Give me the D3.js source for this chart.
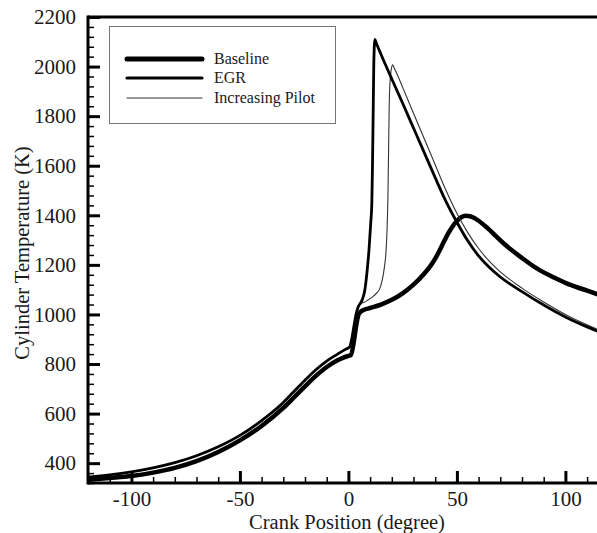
<!DOCTYPE html>
<html>
<head>
<meta charset="utf-8">
<script src="https://cdn.jsdelivr.net/npm/d3@7"></script>
<style>
  body { margin: 0; background: #fff; }
  svg { display: block; font-family: "Liberation Serif", "Times New Roman", serif; }
  .axis text { font-size: 21px; fill: #1a1a1a; }
  .axis-title { font-size: 20.5px; fill: #1a1a1a; }
  .legend text { font-size: 16px; fill: #1a1a1a; }
</style>
</head>
<body>
<svg id="chart"></svg>
<script>
// crank angle (deg) vs temperature (K)
const baseline = [[-120,333],[-110,340],[-100,348],[-90,362],[-80,381],[-70,408],[-60,445],[-50,492],
  [-40,550],[-30,623],[-25,666],[-20,710],[-15,752],[-10,788],[-5,815],[-2,827],[0,833],[1.2,837],
  [2.5,890],[3.5,950],[4.5,995],[5.5,1010],[7,1018],[10,1026],[15,1040],[20,1059],[25,1085],[30,1120],
  [35,1165],[38,1198],[40,1225],[42,1258],[44,1293],[46,1327],[48,1355],[50,1377],[52,1392],[54,1398],
  [56,1396],[58,1389],[60,1378],[64,1349],[68,1316],[72,1283],[80,1228],[87,1185],[95,1148],
  [102,1120],[110,1096],[115,1081],[120,1067]];

const egr = [[-120,344],[-110,353],[-100,365],[-90,381],[-80,402],[-70,430],[-60,466],[-50,512],
  [-40,572],[-30,645],[-25,690],[-20,735],[-15,777],[-10,812],[-5,840],[-2,856],[-0.5,863],[0.5,868],
  [1.5,900],[2.5,950],[3.5,1000],[4.5,1030],[5.5,1045],[6.5,1062],[7.6,1100],[8.5,1165],[9.5,1262],
  [10.3,1370],[10.8,1450],[11.1,1600],[11.4,1800],[11.7,2010],[12.2,2110],[12.8,2096],[15,2050],
  [20,1950],[25,1852],[30,1752],[35,1652],[40,1552],[45,1455],[50,1372],[55,1297],[60,1236],
  [65,1189],[70,1151],[80,1092],[90,1038],[100,990],[110,950],[115,932],[120,915]];

const pilot = [[-120,344],[-110,353],[-100,365],[-90,381],[-80,402],[-70,430],[-60,466],[-50,512],
  [-40,572],[-30,645],[-25,690],[-20,735],[-15,777],[-10,812],[-5,840],[-2,856],[-0.5,863],[0.5,868],
  [1.5,900],[2.5,950],[3.5,1000],[4.5,1030],[5.5,1045],[7,1048],[9,1058],[11,1070],[13,1086],
  [14.5,1105],[15.5,1135],[16.5,1185],[17.3,1250],[17.8,1340],[18.2,1470],[18.5,1650],[18.8,1840],
  [19.2,1940],[19.7,1985],[20.4,2007],[21,1996],[22,1978],[25,1916],[30,1812],[35,1708],[40,1604],
  [45,1500],[50,1408],[55,1330],[60,1266],[65,1214],[70,1172],[80,1106],[90,1050],[100,1000],
  [110,958],[115,939],[120,921]];

const seriesNames = ["Baseline", "EGR", "Increasing Pilot"];
const xMajor = [-100, -50, 0, 50, 100];
const yMajor = [400, 600, 800, 1000, 1200, 1400, 1600, 1800, 2000, 2200];

const W = 597, H = 533;
const plotLeft = 88, plotTop = 17, plotBottom = 483;

const svg = d3.select("#chart").attr("width", W).attr("height", H);
svg.append("rect").attr("width", W).attr("height", H).attr("fill", "#fff");

const x = d3.scaleLinear().domain([-120, 120]).range([plotLeft, plotLeft + 240 * 2.17]);
const y = d3.scaleLinear().domain([320, 2200]).range([plotBottom, plotTop]);

const xMinor = d3.range(-120, 121, 10).filter(d => !xMajor.includes(d));
const yMinor = d3.range(320, 2200, 40).filter(d => !yMajor.includes(d));

// clip for curves
svg.append("clipPath").attr("id", "plot-clip")
  .append("rect").attr("x", plotLeft).attr("y", plotTop)
  .attr("width", W - plotLeft).attr("height", plotBottom - plotTop);

const line = d3.line()
  .x(d => x(d[0]))
  .y(d => y(d[1]))
  .curve(d3.curveMonotoneX);

const curves = svg.append("g").attr("clip-path", "url(#plot-clip)");
const styles = [
  {data: baseline, width: 4.5, color: "#000"},
  {data: pilot, width: 1.1, color: "#333"},
  {data: egr, width: 2.8, color: "#000"}
];
styles.forEach(s => {
  curves.append("path")
    .attr("d", line(s.data))
    .attr("fill", "none")
    .attr("stroke", s.color)
    .attr("stroke-width", s.width)
    .attr("stroke-linejoin", "round");
});

const plain = d => String(d); // hyphen minus, no thousands comma

// axes - ticks point inward
const yAxisMinorG = svg.append("g").attr("transform", `translate(${plotLeft},0)`)
  .call(d3.axisLeft(y).tickValues(yMinor).tickSizeInner(-6).tickSizeOuter(0).tickFormat(""));
yAxisMinorG.selectAll("line").attr("stroke-width", 1.5);
yAxisMinorG.select(".domain").remove();

const yAxisG = svg.append("g").attr("class", "axis").attr("transform", `translate(${plotLeft},0)`)
  .call(d3.axisLeft(y).tickValues(yMajor).tickFormat(plain)
    .tickSizeInner(-12).tickSizeOuter(0).tickPadding(12));
yAxisG.selectAll("line").attr("stroke-width", 3);
yAxisG.select(".domain").remove();
yAxisG.attr("font-family", null).attr("font-size", null);

const xAxisMinorG = svg.append("g").attr("transform", `translate(0,${plotBottom})`)
  .call(d3.axisBottom(x).tickValues(xMinor).tickSizeInner(-6).tickSizeOuter(0).tickFormat(""));
xAxisMinorG.selectAll("line").attr("stroke-width", 1.5);
xAxisMinorG.select(".domain").remove();

const xAxisG = svg.append("g").attr("class", "axis").attr("transform", `translate(0,${plotBottom})`)
  .call(d3.axisBottom(x).tickValues(xMajor).tickFormat(plain)
    .tickSizeInner(-12).tickSizeOuter(0).tickPadding(8));
xAxisG.selectAll("line").attr("stroke-width", 3);
xAxisG.select(".domain").remove();
xAxisG.attr("font-family", null).attr("font-size", null);

// frame lines
svg.append("line").attr("x1", plotLeft).attr("x2", W).attr("y1", plotTop).attr("y2", plotTop)
  .attr("stroke", "#000").attr("stroke-width", 3);
svg.append("line").attr("x1", plotLeft).attr("x2", W).attr("y1", plotBottom).attr("y2", plotBottom)
  .attr("stroke", "#000").attr("stroke-width", 3);
svg.append("line").attr("x1", plotLeft).attr("x2", plotLeft)
  .attr("y1", plotTop - 1.5).attr("y2", plotBottom + 1.5)
  .attr("stroke", "#000").attr("stroke-width", 3);

// axis titles
svg.append("text").attr("class", "axis-title")
  .attr("x", (plotLeft + 608) / 2 - 1).attr("y", 528.5)
  .attr("text-anchor", "middle")
  .text("Crank Position (degree)");

svg.append("text").attr("class", "axis-title")
  .attr("transform", `translate(29,${(plotTop + plotBottom) / 2 + 3}) rotate(-90)`)
  .attr("text-anchor", "middle")
  .text("Cylinder Temperature (K)");

// legend
const legend = svg.append("g").attr("class", "legend");
legend.append("rect")
  .attr("x", 109.5).attr("y", 26.5).attr("width", 226).attr("height", 97)
  .attr("fill", "#fff").attr("stroke", "#777").attr("stroke-width", 1);
const legendY = [59, 78, 98];
const legendStyle = [styles[0], styles[2], styles[1]];
seriesNames.forEach((name, i) => {
  legend.append("line")
    .attr("x1", 127).attr("x2", 202).attr("y1", legendY[i]).attr("y2", legendY[i])
    .attr("stroke", legendStyle[i].color).attr("stroke-width", [5, 3.2, 1.2][i])
    .attr("stroke-linecap", "round");
  legend.append("text")
    .attr("x", 214).attr("y", legendY[i] + 5)
    .text(name);
});
</script>
</body>
</html>
